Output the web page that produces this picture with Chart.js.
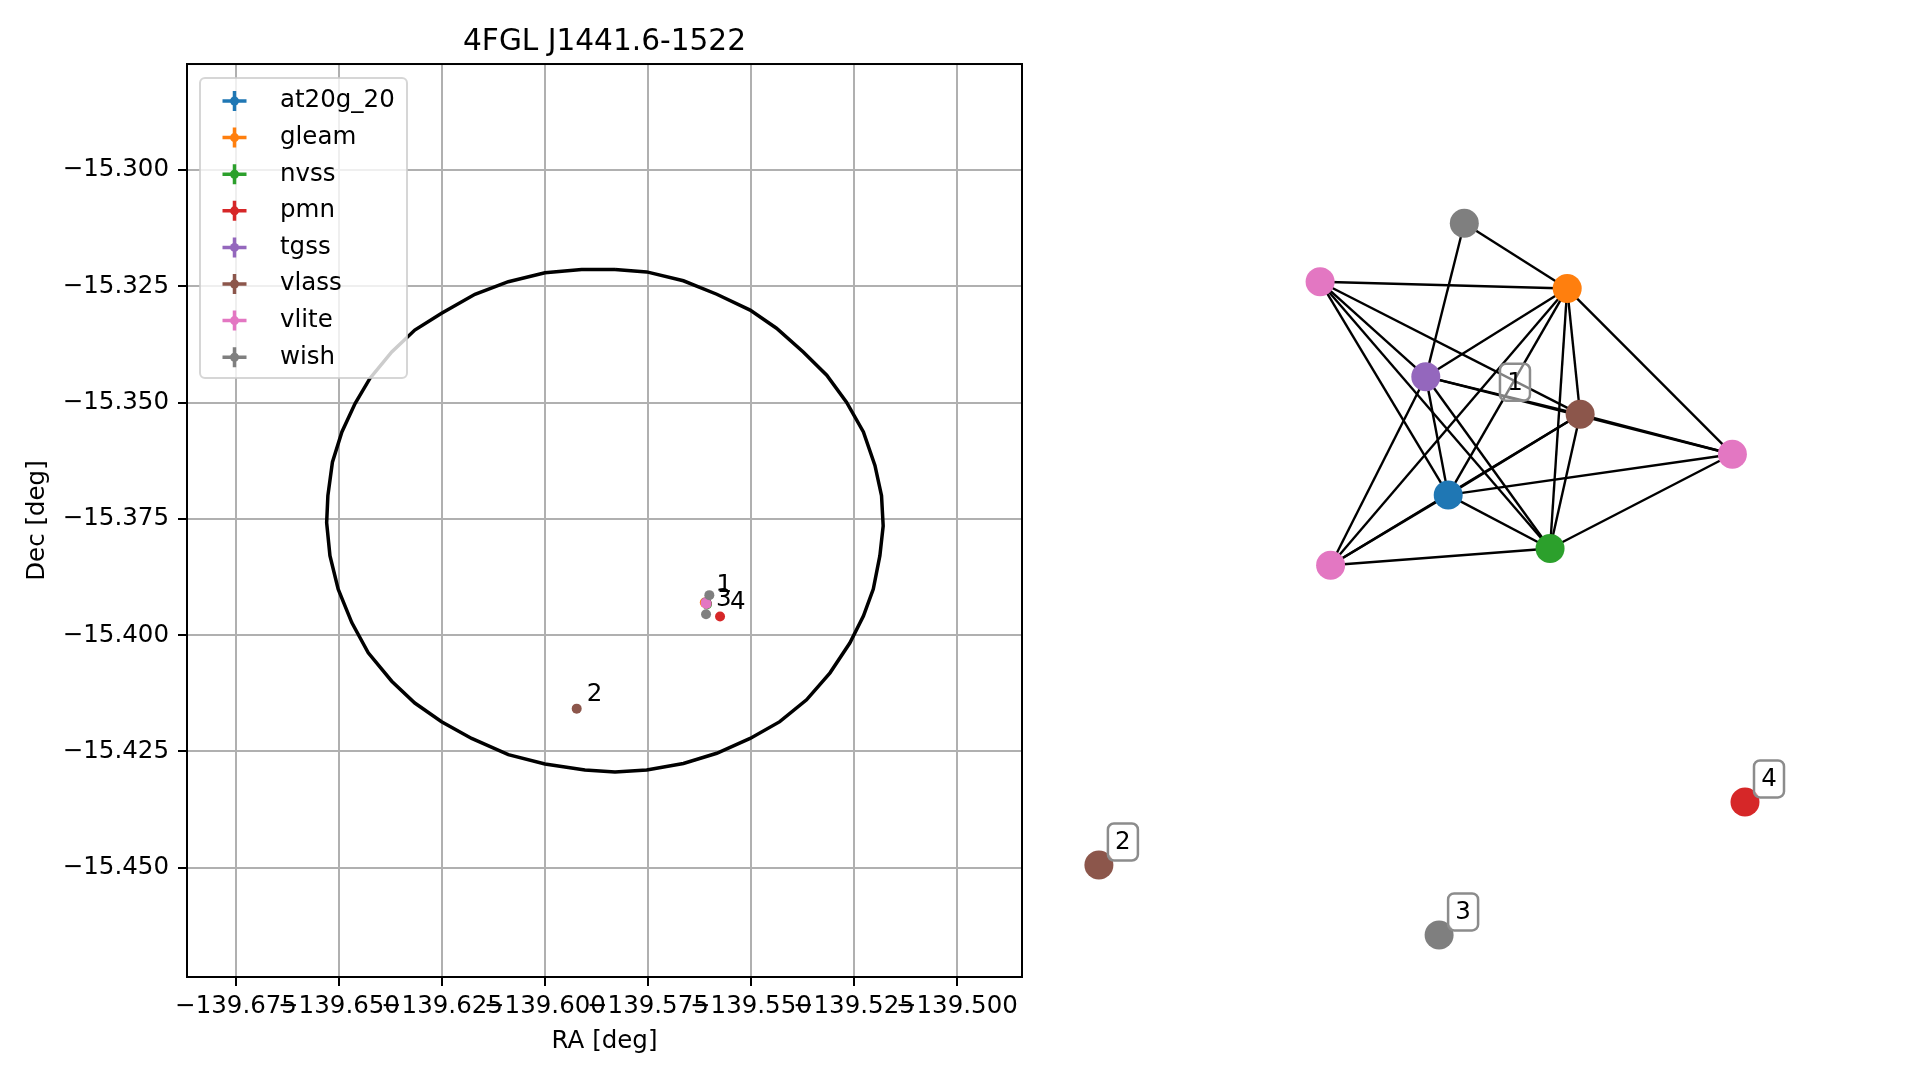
<!DOCTYPE html>
<html>
<head>
<title>4FGL J1441.6-1522</title>
<script src="https://cdn.jsdelivr.net/npm/chart.js"></script>
<style>
body {
  margin: 0;
  background: #fff;
  width: 1919px;
  height: 1080px;
  position: relative;
  overflow: hidden;
}
#skyChart { position: absolute; left: 0; top: 0; }
#graphChart { position: absolute; left: 1040px; top: 150px; }
</style>
</head>
<body>
<canvas id="skyChart" width="1080" height="1080"></canvas>
<canvas id="graphChart" width="879" height="870"></canvas>

<script>
// catalogs and their colours
const catalogs = ['at20g_20', 'gleam', 'nvss', 'pmn', 'tgss', 'vlass', 'vlite', 'wish'];
const catalogColors = ['#1f77b4', '#ff7f0e', '#2ca02c', '#d62728', '#9467bd', '#8c564b', '#e377c2', '#7f7f7f'];

// source positions [RA, Dec] in deg
const at20gPos = [[-139.5608, -15.3931]];
const gleamPos = [[-139.5612, -15.3930]];
const nvssPos = [[-139.5607, -15.3934]];
const pmnPos = [[-139.5575, -15.3960]];
const tgssPos = [[-139.5609, -15.3929]];
const vlassPos = [[-139.5607, -15.3932], [-139.5923, -15.4158]];
const vlitePos = [[-139.5609, -15.3932], [-139.5608, -15.3933], [-139.5610, -15.3931]];
const wishPos = [[-139.5601, -15.3914], [-139.5609, -15.3955]];

// 4FGL error ellipse outline
const ellipseRA = [-139.5830, -139.5911, -139.6000, -139.6089, -139.6170, -139.6251, -139.6316, -139.6372,
  -139.6425, -139.6461, -139.6493, -139.6516, -139.6527, -139.6530, -139.6522, -139.6502, -139.6469,
  -139.6429, -139.6372, -139.6316, -139.6251, -139.6178, -139.6089, -139.6000, -139.5903, -139.5830,
  -139.5753, -139.5664, -139.5583, -139.5502, -139.5430, -139.5365, -139.5308, -139.5260, -139.5227,
  -139.5203, -139.5187, -139.5179, -139.5183, -139.5199, -139.5227, -139.5268, -139.5316, -139.5373,
  -139.5438, -139.5502, -139.5583, -139.5664, -139.5753, -139.5830];
const ellipseDec = [-15.3214, -15.3214, -15.3221, -15.3240, -15.3267, -15.3308, -15.3344, -15.3391,
  -15.3448, -15.3502, -15.3563, -15.3628, -15.3700, -15.3758, -15.3829, -15.3901, -15.3973,
  -15.4038, -15.4099, -15.4146, -15.4186, -15.4222, -15.4257, -15.4277, -15.4290, -15.4294,
  -15.4290, -15.4276, -15.4254, -15.4222, -15.4186, -15.4139, -15.4081, -15.4017, -15.3959,
  -15.3901, -15.3829, -15.3765, -15.3700, -15.3635, -15.3563, -15.3499, -15.3441, -15.3391,
  -15.3340, -15.3301, -15.3267, -15.3238, -15.3219, -15.3214];

// group labels on the sky plot
const groupLabels = ['1', '2', '3', '4'];
const groupRA = [-139.5608, -139.5923, -139.5609, -139.5575];
const groupDec = [-15.3925, -15.4158, -15.3955, -15.3960];

// axis ticks and limits
const raTicks = [-139.675, -139.650, -139.625, -139.600, -139.575, -139.550, -139.525, -139.500];
const decTicks = [-15.300, -15.325, -15.350, -15.375, -15.400, -15.425, -15.450];
const raMin = -139.6869, raMax = -139.4842;
const decMin = -15.4735, decMax = -15.2772;

// association graph
const graphNodeCatalog = ['wish', 'vlite', 'gleam', 'tgss', 'vlass', 'vlite', 'at20g_20', 'nvss', 'vlite', 'vlass', 'wish', 'pmn'];
const graphNodeX = [0.098, -0.314, 0.392, -0.012, 0.429, 0.864, 0.052, 0.343, -0.284, -0.946, 0.026, 0.900];
const graphNodeY = [0.939, 0.785, 0.767, 0.535, 0.436, 0.331, 0.224, 0.083, 0.039, -0.750, -0.934, -0.584];
const graphNodeGroup = ['1', '1', '1', '1', '1', '1', '1', '1', '1', '2', '3', '4'];
const graphEdges = [[0, 2], [0, 3], [1, 2], [1, 3], [1, 4], [1, 6], [1, 7], [2, 3], [2, 4], [2, 5], [2, 6],
  [2, 7], [2, 8], [3, 4], [3, 5], [3, 6], [3, 7], [3, 8], [4, 5], [4, 6], [4, 7], [4, 8], [5, 6], [5, 7],
  [6, 7], [6, 8], [7, 8]];

Chart.defaults.font.family = '"DejaVu Sans", sans-serif';
Chart.defaults.color = '#000';

const FONT = 24.5;
const fmt = v => (v < 0 ? '\u2212' : '') + Math.abs(v).toFixed(3);
const toXY = arr => arr.map(p => ({x: p[0], y: p[1]}));
const catalogData = [at20gPos, gleamPos, nvssPos, pmnPos, tgssPos, vlassPos, vlitePos, wishPos];

const skyDatasets = catalogs.map((name, i) => ({
  label: name,
  data: toXY(catalogData[i]),
  backgroundColor: catalogColors[i],
  borderWidth: 0,
  pointRadius: 5,
  order: catalogs.length - i
}));
const ellipsePts = ellipseRA.map((ra, i) => ({x: ra, y: ellipseDec[i]}));
skyDatasets.push({
  label: 'ellipse',
  data: ellipsePts,
  showLine: true,
  borderColor: '#000',
  borderWidth: 3.5,
  pointRadius: 0,
  order: 20
});

// spines, group labels and legend drawn on top of the sky plot
const skyExtras = {
  id: 'skyExtras',
  afterDraw(chart) {
    const {ctx, chartArea: ca, scales} = chart;
    ctx.save();
    ctx.strokeStyle = '#000';
    ctx.lineWidth = 2;
    ctx.strokeRect(ca.left, ca.top, ca.right - ca.left, ca.bottom - ca.top);

    ctx.font = FONT + 'px "DejaVu Sans"';
    ctx.fillStyle = '#000';
    ctx.textAlign = 'left';
    ctx.textBaseline = 'alphabetic';
    groupLabels.forEach((t, i) => {
      const px = scales.x.getPixelForValue(groupRA[i]);
      const py = scales.y.getPixelForValue(groupDec[i]);
      ctx.fillText(t, px + 10, py - 8);
    });

    const left = ca.left + 13, top = ca.top + 14, w = 207, h = 300;
    ctx.beginPath();
    ctx.roundRect(left, top, w, h, 5);
    ctx.fillStyle = 'rgba(255,255,255,0.8)';
    ctx.fill();
    ctx.strokeStyle = 'rgba(204,204,204,0.8)';
    ctx.lineWidth = 2;
    ctx.stroke();
    catalogs.forEach((name, i) => {
      const cy = top + 23 + i * 36.6, cx = left + 34.5;
      ctx.strokeStyle = catalogColors[i];
      ctx.lineWidth = 3.5;
      ctx.beginPath();
      ctx.moveTo(cx - 12, cy); ctx.lineTo(cx + 12, cy);
      ctx.moveTo(cx, cy - 10); ctx.lineTo(cx, cy + 10);
      ctx.stroke();
      ctx.fillStyle = catalogColors[i];
      ctx.beginPath();
      ctx.arc(cx, cy, 4.5, 0, 2 * Math.PI);
      ctx.fill();
      ctx.fillStyle = '#000';
      ctx.textBaseline = 'middle';
      ctx.fillText(name, left + 80, cy);
    });
    ctx.restore();
  }
};

new Chart(document.getElementById('skyChart'), {
  type: 'scatter',
  data: {datasets: skyDatasets},
  options: {
    responsive: false,
    animation: false,
    events: [],
    layout: {padding: {left: 0, right: 58, top: 0, bottom: 0}},
    plugins: {
      legend: {display: false},
      tooltip: {enabled: false},
      title: {
        display: true,
        text: '4FGL J1441.6-1522',
        color: '#000',
        fullSize: false,
        font: {size: 29.6, weight: 'normal'},
        padding: {top: 24.5, bottom: 4}
      }
    },
    scales: {
      x: {
        type: 'linear',
        min: raMin,
        max: raMax,
        bounds: 'data',
        afterBuildTicks: s => { s.ticks = raTicks.map(v => ({value: v})); },
        afterFit: s => { s.height = 103; },
        ticks: {autoSkip: false, maxRotation: 0, minRotation: 0, color: '#000', font: {size: FONT}, padding: 6, callback: fmt},
        grid: {color: '#b0b0b0', lineWidth: 2, tickColor: '#000', tickLength: 9, tickWidth: 2},
        border: {display: false},
        title: {display: true, text: 'RA [deg]', color: '#000', font: {size: FONT}, padding: {top: 0, bottom: 24}}
      },
      y: {
        type: 'linear',
        min: decMin,
        max: decMax,
        bounds: 'data',
        afterBuildTicks: s => { s.ticks = decTicks.map(v => ({value: v})); },
        afterFit: s => { s.width = 187; },
        ticks: {autoSkip: false, color: '#000', font: {size: FONT}, padding: 9, callback: fmt},
        grid: {color: '#b0b0b0', lineWidth: 2, tickColor: '#000', tickLength: 9, tickWidth: 2},
        border: {display: false},
        title: {display: true, text: 'Dec [deg]', color: '#000', font: {size: FONT}, padding: {top: 23, bottom: 0}}
      }
    }
  },
  plugins: [skyExtras]
});

// association graph
const graphDatasets = graphEdges.map(([a, b]) => ({
  data: [{x: graphNodeX[a], y: graphNodeY[a]}, {x: graphNodeX[b], y: graphNodeY[b]}],
  showLine: true,
  borderColor: '#000',
  borderWidth: 2.4,
  pointRadius: 0,
  clip: false,
  order: 1
}));
graphDatasets.push({
  data: graphNodeX.map((x, i) => ({x: x, y: graphNodeY[i]})),
  backgroundColor: graphNodeCatalog.map(c => catalogColors[catalogs.indexOf(c)]),
  borderWidth: 0,
  pointRadius: 14.5,
  clip: false,
  order: 0
});

const graphLabels = {
  id: 'graphLabels',
  afterDatasetsDraw(chart) {
    const {ctx, scales} = chart;
    ctx.save();
    ctx.font = FONT + 'px "DejaVu Sans"';
    ctx.textAlign = 'center';
    ctx.textBaseline = 'middle';
    groupLabels.forEach(g => {
      const idx = graphNodeGroup.map((v, i) => v === g ? i : -1).filter(i => i >= 0);
      const mx = idx.reduce((s, i) => s + graphNodeX[i], 0) / idx.length;
      const my = idx.reduce((s, i) => s + graphNodeY[i], 0) / idx.length;
      const cx = scales.x.getPixelForValue(mx) + 24;
      const cy = scales.y.getPixelForValue(my) - 23;
      ctx.beginPath();
      ctx.roundRect(cx - 15, cy - 18.5, 30, 37, 6);
      ctx.fillStyle = 'rgba(255,255,255,0.5)';
      ctx.fill();
      ctx.strokeStyle = '#8c8c8c';
      ctx.lineWidth = 2.5;
      ctx.stroke();
      ctx.fillStyle = '#000';
      ctx.fillText(g, cx, cy + 1);
    });
    ctx.restore();
  }
};

new Chart(document.getElementById('graphChart'), {
  type: 'scatter',
  data: {datasets: graphDatasets},
  options: {
    responsive: false,
    animation: false,
    events: [],
    layout: {padding: {left: 40, right: 139, top: 50, bottom: 60}},
    plugins: {legend: {display: false}, tooltip: {enabled: false}},
    scales: {
      x: {type: 'linear', min: -1, max: 1, display: false},
      y: {type: 'linear', min: -1, max: 1, display: false}
    }
  },
  plugins: [graphLabels]
});
</script>
</body>
</html>
